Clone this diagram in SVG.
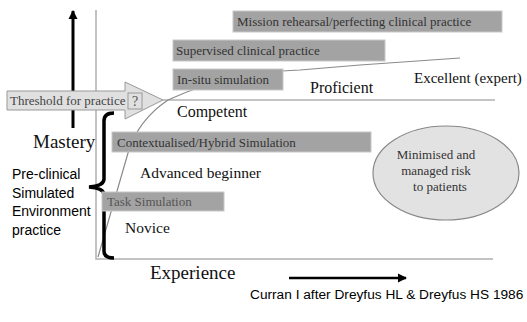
<svg xmlns="http://www.w3.org/2000/svg" width="527" height="322" viewBox="0 0 527 322">
<defs>
<style>
.serif{font-family:"Liberation Serif","Times New Roman",serif;fill:#111;}
.box{fill:#a3a3a3;stroke:#c8c8c8;stroke-width:1;}
.boxt{font-family:"Liberation Serif","Times New Roman",serif;font-size:13px;fill:#333;}
.sans{font-family:"Liberation Sans",Arial,sans-serif;fill:#000;}
.axis{stroke:#b0b0b0;stroke-width:1.5;fill:none;}
</style>
<marker id="ah" markerWidth="10" markerHeight="10" refX="8" refY="5" orient="auto" markerUnits="userSpaceOnUse">
<path d="M0,0.5 L9,5 L0,9.5 Z" fill="#000"/>
</marker>
</defs>
<rect width="527" height="322" fill="#fff"/>

<g id="connectors">
<line id="mastery-arrow" x1="73" y1="128" x2="73" y2="11" stroke="#000" stroke-width="3" marker-end="url(#ah)"/>
<line id="experience-arrow" x1="289" y1="278" x2="406" y2="278" stroke="#000" stroke-width="2.5" marker-end="url(#ah)"/>
<path id="y-axis" class="axis" d="M96,10 L96,259 L493,259"/>
<line id="competent-line" class="axis" x1="163" y1="100" x2="495" y2="100"/>
<path id="curve" d="M98,257 L128,153 Q138,120 168,100 Q200,85 240,76 Q270,71 300,70 L360,65 L460,58" fill="none" stroke="#8a8a8a" stroke-width="1.2"/>
<path id="bracket" d="M114,113 Q104,113 104,121 L104,179 Q104,186 89,187 Q104,188 104,195 L104,251 Q104,258 114,258" fill="none" stroke="#000" stroke-width="3.5"/>
</g>

<g id="threshold">
<path d="M7,91 L125,91 L125,82 L163,100 L125,119 L125,110 L7,110 Z" fill="#e0e0e0" stroke="#999" stroke-width="1"/>
<text class="serif" x="10" y="105" font-size="13" style="fill:#444">Threshold for practice</text>
<rect x="128" y="93" width="14" height="16" fill="#e0e0e0" stroke="#999" stroke-width="1"/>
<text class="serif" x="135" y="106" font-size="14" text-anchor="middle" style="fill:#555">?</text>
</g>

<g id="mission">
<rect class="box" x="233" y="11" width="269" height="21"/>
<text class="boxt" x="237" y="25.5">Mission rehearsal/perfecting clinical practice</text>
</g>
<g id="supervised">
<rect class="box" x="173" y="40" width="212" height="21"/>
<text class="boxt" x="176" y="55">Supervised clinical practice</text>
</g>
<g id="insitu">
<rect class="box" x="173" y="69" width="110" height="21"/>
<text class="boxt" x="177" y="84">In-situ simulation</text>
</g>
<g id="contextualised">
<rect class="box" x="112" y="132" width="259" height="20"/>
<text class="boxt" x="117" y="146.5">Contextualised/Hybrid Simulation</text>
</g>
<g id="task">
<rect class="box" x="102" y="192" width="122" height="19"/>
<text class="boxt" x="107" y="206" style="fill:#555">Task Simulation</text>
</g>

<g id="labels">
<text class="serif" x="177" y="117" font-size="16">Competent</text>
<text class="serif" x="310" y="93" font-size="16">Proficient</text>
<text class="serif" x="414" y="83" font-size="15">Excellent (expert)</text>
<text class="serif" x="140" y="178" font-size="15.5">Advanced beginner</text>
<text class="serif" x="125" y="233" font-size="15.5">Novice</text>
<text class="serif" x="33" y="148" font-size="19">Mastery</text>
<text class="serif" x="150" y="279" font-size="19">Experience</text>
</g>

<g id="preclinical">
<text class="sans" x="12" y="179" font-size="14">Pre-clinical</text>
<text class="sans" x="12" y="197.5" font-size="14">Simulated</text>
<text class="sans" x="12" y="216" font-size="14">Environment</text>
<text class="sans" x="12" y="234.5" font-size="14">practice</text>
</g>

<g id="risk">
<ellipse cx="446" cy="173" rx="73" ry="47" fill="#e2e2e2" stroke="#888" stroke-width="1.2"/>
<text class="serif" x="436" y="159" font-size="13" text-anchor="middle" style="fill:#333">Minimised and</text>
<text class="serif" x="436" y="175" font-size="13" text-anchor="middle" style="fill:#333">managed risk</text>
<text class="serif" x="440" y="191" font-size="13" text-anchor="middle" style="fill:#333">to patients</text>
</g>

<g id="credit">
<text class="sans" x="250" y="299" font-size="13.7">Curran I after Dreyfus HL &amp; Dreyfus HS 1986</text>
</g>
</svg>
